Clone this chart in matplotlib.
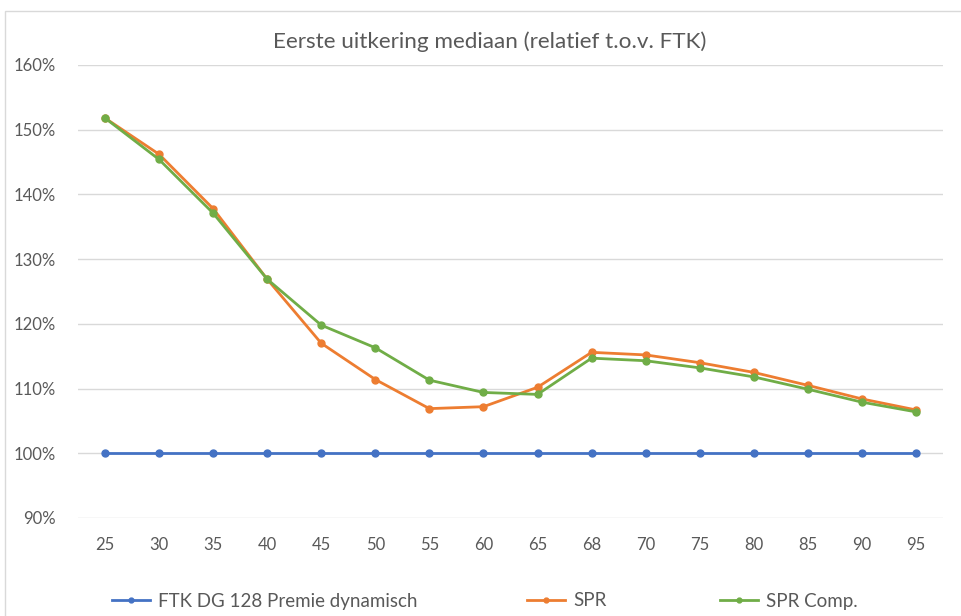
import matplotlib
matplotlib.use("Agg")
import matplotlib.pyplot as plt
from matplotlib.patches import Rectangle

ages = ["25", "30", "35", "40", "45", "50", "55", "60", "65", "68", "70", "75", "80", "85", "90", "95"]
ftk = [100, 100, 100, 100, 100, 100, 100, 100, 100, 100, 100, 100, 100, 100, 100, 100]
spr = [151.8, 146.2, 137.8, 126.9, 117.0, 111.4, 106.9, 107.2, 110.2, 115.6, 115.2, 114.0, 112.5, 110.5, 108.4, 106.7]
spr_comp = [151.8, 145.4, 137.1, 126.9, 119.8, 116.3, 111.3, 109.4, 109.1, 114.7, 114.3, 113.2, 111.8, 109.9, 107.9, 106.4]
series_names = ["FTK DG 128 Premie dynamisch", "SPR", "SPR Comp."]
title = "Eerste uitkering mediaan (relatief t.o.v. FTK)"

plt.rcParams['font.family'] = ['Lato', 'DejaVu Sans']
W, H = 961, 616
fig = plt.figure(figsize=(W / 100, H / 100), dpi=100)
fig.patch.set_facecolor("white")
fig.add_artist(Rectangle((5 / W, -0.05), 1.2, 1 - 11 / H + 0.05, transform=fig.transFigure,
                         fill=False, edgecolor="#d9d9d9", linewidth=1.0))

ax = fig.add_axes([78 / W, 98 / H, (943 - 78) / W, (518 - 65) / H])
x = list(range(len(ages)))
colors = ["#4472c4", "#ed7d31", "#70ad47"]
handles = []
for vals, c, name in zip([ftk, spr, spr_comp], colors, series_names):
    h, = ax.plot(x, vals, color=c, linewidth=2.0, marker="o", markersize=5, label=name, zorder=3)
    handles.append(h)

ax.set_xlim(-0.5, len(ages) - 0.5)
ax.set_ylim(90, 160)
ax.set_yticks(range(90, 161, 10))
ax.set_yticklabels([f"{v}%" for v in range(90, 161, 10)])
ax.set_xticks(x)
ax.set_xticklabels(ages)
ax.grid(axis="y", color="#d9d9d9", linewidth=1.0)
ax.set_axisbelow(True)
for s in ax.spines.values():
    s.set_visible(False)
ax.tick_params(length=0, labelsize=12, labelcolor="#595959")
ax.tick_params(axis="x", pad=14)
ax.tick_params(axis="y", pad=16)

fig.text(490 / W, 1 - 42 / H, title, ha="center", va="center", fontsize=16.2, color="#595959")

for h, name, x0 in zip(handles, series_names, [112, 527, 720]):
    leg = fig.legend([h], [name], loc="center left", bbox_to_anchor=(x0 / W, 1 - 601 / H),
                     frameon=False, fontsize=13.5, labelcolor="#595959", borderpad=0,
                     borderaxespad=0, handlelength=2.03, handletextpad=0.43, markerscale=0.7)

fig.savefig("out.png", dpi=100)
